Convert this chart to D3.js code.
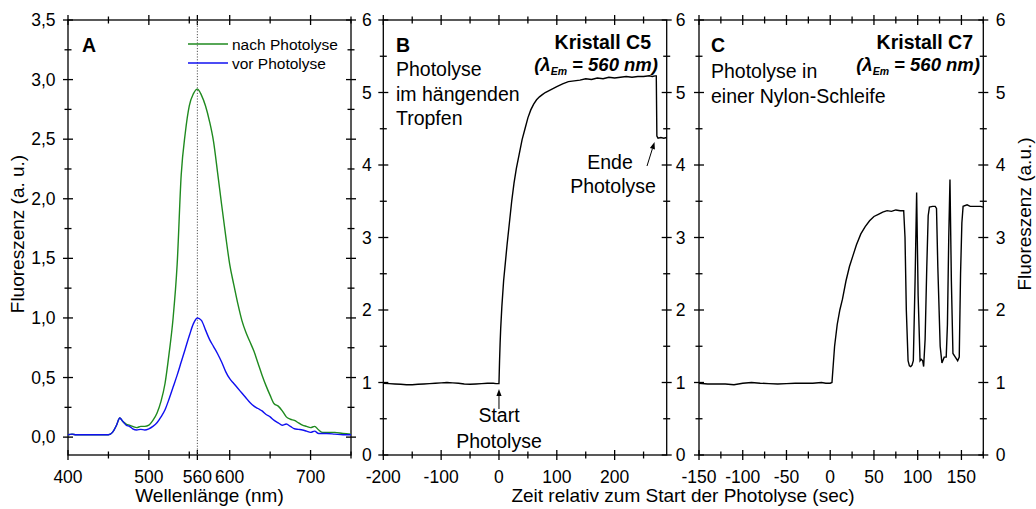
<!DOCTYPE html>
<html>
<head>
<meta charset="utf-8">
<script src="https://cdn.jsdelivr.net/npm/d3@7"></script>
<style>
  html, body { margin: 0; padding: 0; background: #fff; }
  svg { display: block; font-family: "Liberation Sans", Arial, sans-serif; }
</style>
</head>
<body>
<svg id="chart" width="1036" height="509"></svg>
<script>
// ---------- Panel A: emission spectra ----------
const wavelengths = [400,405,410,420,430,440,450,455,460,464,468,472,476,480,485,490,495,500,505,510,515,520,525,530,535,540,545,550,555,560,565,570,575,580,585,590,595,600,605,610,615,620,625,630,635,640,645,650,655,660,665,670,675,680,685,690,695,700,705,710,715,720,730,740,750];
const nachPhotolyse = [0.02,0.025,0.02,0.02,0.02,0.02,0.02,0.04,0.10,0.16,0.13,0.11,0.10,0.09,0.08,0.09,0.09,0.10,0.14,0.20,0.30,0.45,0.70,1.00,1.45,2.20,2.55,2.78,2.88,2.92,2.87,2.78,2.65,2.48,2.22,1.95,1.69,1.45,1.28,1.12,0.98,0.88,0.80,0.72,0.62,0.52,0.43,0.35,0.28,0.26,0.22,0.17,0.15,0.14,0.12,0.10,0.09,0.08,0.09,0.06,0.04,0.04,0.04,0.03,0.025];
const vorPhotolyse = [0.02,0.025,0.02,0.02,0.02,0.02,0.02,0.04,0.10,0.16,0.13,0.10,0.09,0.07,0.06,0.065,0.06,0.07,0.09,0.12,0.17,0.23,0.32,0.42,0.52,0.63,0.74,0.85,0.95,1.00,0.98,0.90,0.82,0.76,0.70,0.63,0.55,0.49,0.45,0.41,0.37,0.33,0.29,0.26,0.24,0.22,0.19,0.17,0.14,0.12,0.10,0.11,0.09,0.07,0.065,0.06,0.05,0.04,0.05,0.03,0.03,0.03,0.025,0.02,0.02];
const ticksA_x = [400,500,560,600,700];
const minorA_x = [450,550,650,750];
const ticksA_y = [0,0.5,1.0,1.5,2.0,2.5,3.0,3.5];
const minorA_y = [0.25,0.75,1.25,1.75,2.25,2.75,3.25];

// ---------- Panel B: Kristall C5, hanging drop ----------
const zeitB = [-200,-190,-180,-170,-160,-150,-140,-130,-120,-110,-100,-90,-80,-70,-60,-50,-40,-30,-20,-10,-5,0,1,2,3,5,8,11,14,18,22,26,30,35,40,45,50,55,60,65,70,75,80,85,90,100,110,120,130,140,150,160,170,180,190,200,210,220,230,240,250,260,265,270,272,273,275,280,285,290];
const fluorB = [0.99,0.985,0.98,0.975,0.97,0.97,0.975,0.98,0.985,0.99,0.995,1.0,0.995,0.99,0.98,0.975,0.98,0.985,0.99,0.99,0.985,0.985,1.3,1.55,1.75,2.05,2.4,2.65,2.9,3.2,3.5,3.75,3.95,4.15,4.35,4.5,4.65,4.76,4.84,4.9,4.94,4.97,5.0,5.02,5.04,5.08,5.12,5.15,5.16,5.17,5.19,5.18,5.2,5.19,5.21,5.2,5.21,5.22,5.21,5.22,5.22,5.23,5.22,5.23,5.23,4.40,4.37,4.38,4.37,4.38];
const ticksB_x = [-200,-100,0,100,200];
const minorB_x = [-150,-50,50,150,250];

// ---------- Panel C: Kristall C7, nylon loop ----------
const zeitC = [-150,-140,-130,-120,-110,-100,-90,-80,-70,-60,-50,-40,-30,-20,-10,-5,0,2,5,8,11,14,18,22,26,30,35,40,45,50,55,60,65,70,75,80,84,85.5,87,89,90.5,92,93.5,95,97,98.8,100.5,102.7,104,105.7,106.8,108.5,110.4,112,113.4,117,120,121.5,123,125.7,127.7,130.3,132.6,134,135.5,136.9,138.5,140.3,143,145.7,147.5,149,150.5,151.9,156.5,160,164,168,172,175];
const fluorC = [0.99,0.98,0.98,0.98,0.97,0.99,1.0,0.99,0.985,0.98,0.985,0.99,0.99,0.99,1.0,0.99,0.99,1.0,1.5,1.8,2.0,2.15,2.4,2.6,2.75,2.9,3.05,3.15,3.23,3.29,3.32,3.35,3.37,3.36,3.38,3.37,3.37,3.0,2.0,1.3,1.23,1.22,1.24,1.3,2.4,3.62,2.2,1.3,1.32,1.3,1.22,1.6,2.6,3.3,3.42,3.43,3.43,3.4,2.6,1.5,1.27,1.35,1.35,1.8,3.0,3.80,2.4,1.4,1.35,1.3,1.35,2.5,3.2,3.43,3.45,3.43,3.43,3.43,3.43,3.42];
const ticksC_x = [-150,-100,-50,0,50,100,150];
const minorC_x = [-125,-75,-25,25,75,125,175];

const ticksBC_y = [0,1,2,3,4,5,6];
const minorBC_y = [0.5,1.5,2.5,3.5,4.5,5.5];

// ---------- layout ----------
const svg = d3.select("#chart");
const yTop = 20, yBot = 455;
const TICK_FONT = 17.5, TITLE_FONT = 19, NOTE_FONT = 19.5;
const frame = {
  A: {l: 68, r: 351},
  B: {l: 383.3, r: 666.7},
  C: {l: 699, r: 983.3}
};

const xA = d3.scaleLinear().domain([400, 750]).range([frame.A.l, frame.A.r]);
const yA = d3.scaleLinear().domain([-0.15, 3.5]).range([yBot, yTop]);
const xB = d3.scaleLinear().domain([-200, 290]).range([frame.B.l, frame.B.r]);
const yB = d3.scaleLinear().domain([0, 6]).range([yBot, yTop]);
const xC = d3.scaleLinear().domain([-150, 175]).range([frame.C.l, frame.C.r]);
const yC = d3.scaleLinear().domain([0, 6]).range([yBot, yTop]);

// crossing tick marks drawn along a given edge
function tickMarks(g, scale, values, orient, pos, half) {
  values.forEach(v => {
    const p = scale(v);
    if (orient === "h") {
      g.append("line").attr("x1", p).attr("x2", p).attr("y1", pos - half).attr("y2", pos + half);
    } else {
      g.append("line").attr("y1", p).attr("y2", p).attr("x1", pos - half).attr("x2", pos + half);
    }
  });
}

function panel(x, y, f, xMajor, xMinor, yMajor, yMinor, fmtY, leftLabels, rightLabels) {
  const g = svg.append("g").attr("stroke", "#000").attr("stroke-width", 1.3);
  tickMarks(g, x, xMajor, "h", yBot, 5);
  tickMarks(g, x, xMinor, "h", yBot, 3.5);
  tickMarks(g, x, xMajor, "h", yTop, 5);
  tickMarks(g, x, xMinor, "h", yTop, 3.5);
  tickMarks(g, y, yMajor, "v", f.l, 5);
  tickMarks(g, y, yMinor, "v", f.l, 3.5);
  tickMarks(g, y, yMajor, "v", f.r, 5);
  tickMarks(g, y, yMinor, "v", f.r, 3.5);
  g.append("rect").attr("x", f.l).attr("y", yTop).attr("width", f.r - f.l).attr("height", yBot - yTop)
    .attr("fill", "none");

  const t = svg.append("g").attr("font-size", TICK_FONT).attr("fill", "#000");
  t.selectAll(null).data(xMajor).join("text")
    .attr("x", d => x(d)).attr("y", yBot + 28).attr("text-anchor", "middle").text(d => d);
  if (leftLabels) {
    t.selectAll(null).data(yMajor).join("text")
      .attr("x", f.l - leftLabels).attr("y", d => y(d) + 6).attr("text-anchor", "end").text(fmtY);
  }
  if (rightLabels) {
    t.selectAll(null).data(yMajor).join("text")
      .attr("x", f.r + rightLabels).attr("y", d => y(d) + 6).attr("text-anchor", "start").text(fmtY);
  }
}

const commaFmt = d => d3.format(".1f")(d).replace(".", ",");
panel(xA, yA, frame.A, ticksA_x, minorA_x, ticksA_y, minorA_y, commaFmt, 12.5, 0);
panel(xB, yB, frame.B, ticksB_x, minorB_x, ticksBC_y, minorBC_y, d => d, 11.5, 0);
panel(xC, yC, frame.C, ticksC_x, minorC_x, ticksBC_y, minorBC_y, d => d, 13.5, 12.5);

// ---------- Panel A content ----------
svg.append("line")
  .attr("x1", xA(560)).attr("x2", xA(560)).attr("y1", yTop).attr("y2", yBot)
  .attr("stroke", "#555").attr("stroke-width", 1).attr("stroke-dasharray", "1.2,1.6");

const lineA = (vals) => d3.line().x((d, i) => xA(wavelengths[i])).y(d => yA(d)).curve(d3.curveMonotoneX)(vals);
svg.append("path").attr("d", lineA(nachPhotolyse)).attr("fill", "none").attr("stroke", "#1f8a1f").attr("stroke-width", 1.4);
svg.append("path").attr("d", lineA(vorPhotolyse)).attr("fill", "none").attr("stroke", "#1010f0").attr("stroke-width", 1.4);

const legend = [
  {label: "nach Photolyse", color: "#1f8a1f", y: 44},
  {label: "vor Photolyse", color: "#1010f0", y: 63}
];
legend.forEach(d => {
  svg.append("line").attr("x1", 188).attr("x2", 228).attr("y1", d.y).attr("y2", d.y)
    .attr("stroke", d.color).attr("stroke-width", 1.4);
  svg.append("text").attr("x", 232).attr("y", d.y + 5.5).attr("font-size", 15.5).text(d.label);
});
svg.append("text").attr("x", 82).attr("y", 52).attr("font-size", NOTE_FONT).attr("font-weight", "bold").text("A");

// ---------- Panel B content ----------
const lineB = d3.line().x((d, i) => xB(zeitB[i])).y(d => yB(d));
svg.append("path").attr("d", lineB(fluorB)).attr("fill", "none").attr("stroke", "#000").attr("stroke-width", 1.4);

// ---------- Panel C content ----------
const lineC = d3.line().x((d, i) => xC(zeitC[i])).y(d => yC(d));
svg.append("path").attr("d", lineC(fluorC)).attr("fill", "none").attr("stroke", "#000").attr("stroke-width", 1.4);

// ---------- annotations ----------
function note(x, y, str, opts = {}) {
  return svg.append("text").attr("x", x).attr("y", y).attr("font-size", opts.size || NOTE_FONT)
    .attr("font-weight", opts.bold ? "bold" : null).attr("text-anchor", opts.anchor || "start").text(str);
}
note(396, 52, "B", {bold: true});
note(396, 76, "Photolyse");
note(396, 101, "im hängenden");
note(396, 125, "Tropfen");

note(711, 52, "C", {bold: true});
note(711, 78, "Photolyse in");
note(711, 103, "einer Nylon-Schleife");

function crystal(xRight, label) {
  note(xRight - 7, 49, label, {bold: true, anchor: "end"});
  const t = svg.append("text").attr("x", xRight).attr("y", 71).attr("font-size", 18.5)
    .attr("font-weight", "bold").attr("font-style", "italic").attr("text-anchor", "end");
  t.append("tspan").text("(λ");
  t.append("tspan").attr("font-size", 10.5).attr("dy", 4).text("Em");
  t.append("tspan").attr("dy", -4).text(" = 560 nm)");
}
crystal(658, "Kristall C5");
crystal(980, "Kristall C7");

note(xB(0), 422, "Start", {anchor: "middle"});
note(xB(0), 448, "Photolyse", {anchor: "middle"});
note(610, 169, "Ende", {anchor: "middle"});
note(613, 193, "Photolyse", {anchor: "middle"});

function arrow(x1, y1, x2, y2) {
  const ang = Math.atan2(y2 - y1, x2 - x1);
  const L = 7, W = 2.6;
  const bx = x2 - L * Math.cos(ang), by = y2 - L * Math.sin(ang);
  svg.append("line").attr("x1", x1).attr("y1", y1).attr("x2", bx).attr("y2", by)
    .attr("stroke", "#000").attr("stroke-width", 1);
  const px = -Math.sin(ang) * W, py = Math.cos(ang) * W;
  svg.append("path").attr("d", `M${x2},${y2}L${bx + px},${by + py}L${bx - px},${by - py}Z`).attr("fill", "#000");
}
arrow(xB(0), 409, xB(0), 389);
arrow(647, 166, 654.5, 142);

// ---------- axis titles ----------
svg.append("text").attr("x", (frame.A.l + frame.A.r) / 2).attr("y", 502).attr("font-size", TITLE_FONT)
  .attr("text-anchor", "middle").text("Wellenlänge (nm)");
svg.append("text").attr("x", 683).attr("y", 502).attr("font-size", TITLE_FONT)
  .attr("text-anchor", "middle").text("Zeit relativ zum Start der Photolyse (sec)");
svg.append("text").attr("transform", "translate(24,234) rotate(-90)").attr("font-size", TITLE_FONT)
  .attr("text-anchor", "middle").text("Fluoreszenz (a. u.)");
svg.append("text").attr("transform", "translate(1031,214) rotate(-90)").attr("font-size", TITLE_FONT)
  .attr("text-anchor", "middle").text("Fluoreszenz (a.u.)");
</script>
</body>
</html>
